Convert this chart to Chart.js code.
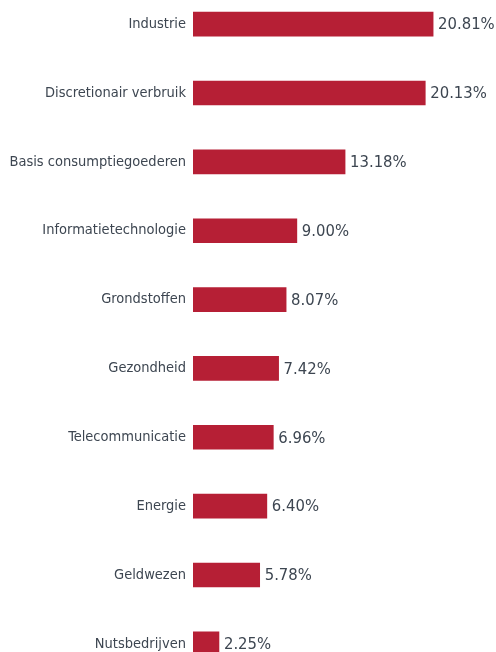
<!DOCTYPE html>
<html>
<head>
<meta charset="utf-8">
<script src="https://cdn.jsdelivr.net/npm/chart.js@4"></script>
<style>
    html, body {
        margin: 0;
        padding: 0;
        background: #ffffff;
        overflow: hidden;
        width: 496px;
        height: 652px;
    }
    #wrap {
        position: absolute;
        left: 0;
        top: -26px;
        width: 496px;
        height: 720px;
    }
</style>
</head>
<body>
<div id="wrap"><canvas id="sectorChart"></canvas></div>
<script>
// ==============================
// Data
// ==============================

const sectors = [
    "Industrie",
    "Discretionair verbruik",
    "Basis consumptiegoederen",
    "Informatietechnologie",
    "Grondstoffen",
    "Gezondheid",
    "Telecommunicatie",
    "Energie",
    "Geldwezen",
    "Nutsbedrijven"
];

const weights = [20.81, 20.13, 13.18, 9.00, 8.07, 7.42, 6.96, 6.40, 5.78, 2.25];

const labelFont = "'DejaVu Sans Condensed', 'DejaVu Sans', sans-serif";

// ==============================
// Value labels
// ==============================

const valueLabels = {
    id: "valueLabels",
    afterDatasetsDraw(chart) {
        const ctx = chart.ctx;
        const meta = chart.getDatasetMeta(0);
        ctx.save();
        ctx.font = "16.5px " + labelFont;
        ctx.fillStyle = "#3d4651";
        ctx.textAlign = "left";
        ctx.textBaseline = "middle";
        meta.data.forEach((bar, i) => {
            ctx.fillText(weights[i].toFixed(2) + "%", bar.x + 5, bar.y + 1);
        });
        ctx.restore();
    }
};

// ==============================
// Sector Bar Chart
// ==============================

const sectorCtx = document.getElementById("sectorChart");

new Chart(sectorCtx, {
    type: "bar",
    data: {
        labels: sectors,
        datasets: [{
            data: weights,
            backgroundColor: "#b61f35",
            borderWidth: 0,
            barThickness: 24
        }]
    },
    options: {
        indexAxis: "y",
        responsive: true,
        maintainAspectRatio: false,
        animation: false,
        layout: {
            padding: { left: 0, right: 3, top: 0, bottom: 0 }
        },
        plugins: {
            legend: { display: false },
            tooltip: { enabled: false }
        },
        scales: {
            x: {
                display: false,
                min: 0,
                max: 26
            },
            y: {
                grid: { display: false, drawTicks: false },
                border: { display: false },
                ticks: {
                    color: "#3d4651",
                    padding: 7,
                    font: { family: labelFont, size: 14.5 }
                },
                afterFit(scale) {
                    scale.width = 193;
                }
            }
        }
    },
    plugins: [valueLabels]
});
</script>
</body>
</html>
